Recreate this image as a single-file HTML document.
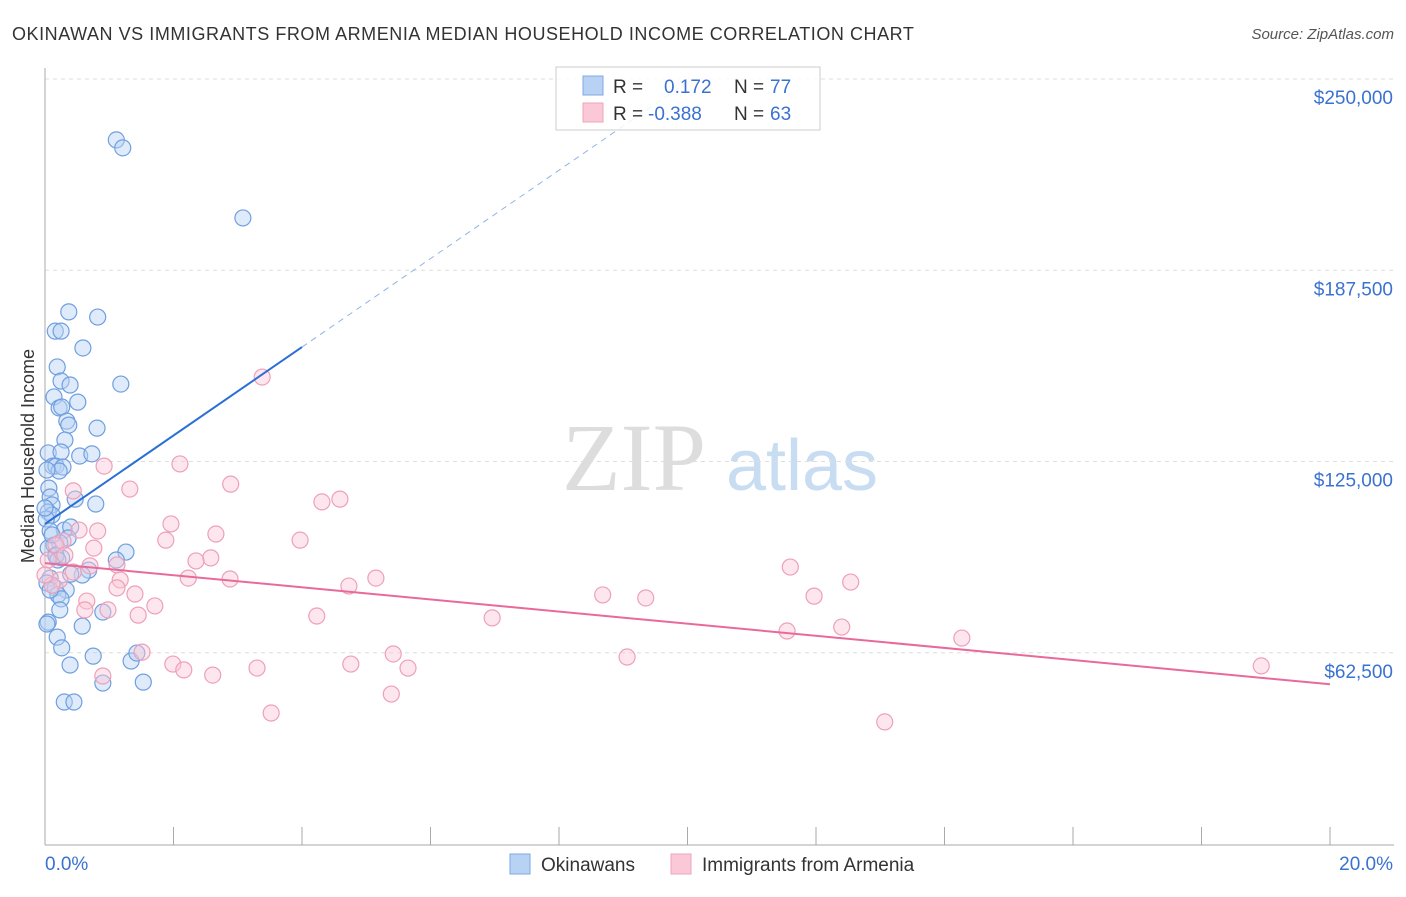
<!DOCTYPE html>
<html><head><meta charset="utf-8"><style>
body{margin:0;background:#fff;font-family:"Liberation Sans",sans-serif;}
svg text{font-family:"Liberation Sans",sans-serif;}
</style></head><body>
<svg id="chart" width="1406" height="892" xmlns="http://www.w3.org/2000/svg">
<text x="12" y="40" font-size="18" fill="#333" letter-spacing="0.55">OKINAWAN VS IMMIGRANTS FROM ARMENIA MEDIAN HOUSEHOLD INCOME CORRELATION CHART</text>
<text x="1394" y="39" font-size="15" fill="#555" text-anchor="end" font-style="italic">Source: ZipAtlas.com</text>
<g>
<text x="634" y="490" font-size="96" fill="#ddd" text-anchor="middle" font-family="Liberation Serif" style="font-family:'Liberation Serif',serif">ZIP</text>
<text x="802" y="490" font-size="72" fill="#c8dcf2" text-anchor="middle">atlas</text>
</g>
<g id="grid"></g>
<g id="axes"></g>
<g id="trend"></g>
<g id="points"></g>
<text transform="translate(34,456) rotate(-90)" font-size="18" fill="#333" text-anchor="middle">Median Household Income</text>
<g>
<rect x="556" y="67" width="264" height="63" fill="#fff" fill-opacity="0.85" stroke="#ccc"/>
<rect x="583" y="76" width="20" height="19" fill="#b8d2f4" stroke="#7fa9e0"/>
<rect x="583" y="103" width="20" height="19" fill="#fac8d6" stroke="#eea5bb"/>
<text x="613" y="93" font-size="19" fill="#333">R =</text>
<text x="664" y="93" font-size="19" fill="#3a72d0">0.172</text>
<text x="734" y="93" font-size="19" fill="#333">N =</text>
<text x="770" y="93" font-size="19" fill="#3a72d0">77</text>
<text x="613" y="120" font-size="19" fill="#333">R =</text>
<text x="648" y="120" font-size="19" fill="#3a72d0">-0.388</text>
<text x="734" y="120" font-size="19" fill="#333">N =</text>
<text x="770" y="120" font-size="19" fill="#3a72d0">63</text>
</g>
<g>
<rect x="510" y="854" width="20" height="20" fill="#b8d2f4" stroke="#7fa9e0"/>
<text x="541" y="871" font-size="19" fill="#333">Okinawans</text>
<rect x="671" y="854" width="20" height="20" fill="#fac8d6" stroke="#eea5bb"/>
<text x="702" y="871" font-size="19" fill="#333">Immigrants from Armenia</text>
</g>
</svg>
<script>
const yTicks=[62500,125000,187500,250000];
const yTickLabels=["$62,500","$125,000","$187,500","$250,000"];
const xTickCount=[0,2,4,6,8,10,12,14,16,18,20];
const blueX=[1.11,1.21,3.08,0.37,0.82,0.16,0.25,0.59,0.19,1.18,0.25,0.39,0.14,0.51,0.22,0.26,0.34,0.37,0.81,0.31,0.05,0.25,0.54,0.73,0.12,0.17,0.28,0.22,0.06,0.47,0.79,0.08,0.11,0.05,0.11,0.02,0.30,0.40,0.08,0.36,0.14,0.23,1.26,1.11,0.05,0.17,0.26,0.68,0.58,0.40,0.08,0.03,0.16,0.33,0.20,0.25,0.90,0.23,0.05,0.58,0.19,0.26,0.75,1.34,1.43,0.39,0.90,1.53,0.30,0.45,0.03,0.08,0.17,0.0,0.03,0.11,0.20];
const blueY=[230.1,227.5,204.6,173.9,172.2,167.6,167.6,162.1,155.9,150.3,151.3,150.0,146.1,144.4,142.5,142.8,138.2,136.9,135.9,132.0,127.8,128.1,126.8,127.5,123.5,123.5,123.2,121.9,116.3,112.7,111.1,113.4,110.8,108.5,107.5,106.2,102.6,103.6,102.3,100.0,97.7,98.4,95.4,92.8,96.7,94.1,93.5,89.5,87.9,88.2,86.9,85.3,83.7,83.0,81.4,80.1,75.8,76.5,72.5,71.2,67.6,64.1,61.4,59.8,62.4,58.5,52.6,52.9,46.4,46.4,71.9,83.0,94.4,109.8,122.2,101.0,92.8];
const pinkX=[3.38,2.10,0.92,0.44,1.32,2.89,4.31,4.59,1.96,0.82,2.66,0.53,1.88,3.97,0.28,0.17,0.76,2.58,2.35,0.70,11.60,1.12,0.44,5.15,1.17,2.23,2.88,12.54,4.73,1.12,1.40,8.68,9.35,11.97,0.65,1.71,0.98,1.45,4.23,6.96,11.55,12.40,14.27,1.51,5.42,9.06,1.99,2.16,3.30,4.76,5.65,0.90,2.61,5.39,3.52,13.07,18.93,0.23,0.05,0.11,0.31,0.0,0.62];
const pinkY=[152.6,124.2,123.5,115.4,116.0,117.6,111.8,112.7,104.6,102.3,101.3,102.6,99.3,99.3,99.0,97.7,96.7,93.5,92.5,90.9,90.5,91.2,88.9,86.9,86.3,86.9,86.6,85.6,84.3,83.7,81.7,81.4,80.4,81.0,79.4,77.8,76.5,74.8,74.5,73.9,69.6,70.9,67.3,62.7,62.1,61.1,58.8,56.9,57.5,58.8,57.5,54.9,55.2,49.0,42.8,39.9,58.2,86.3,92.8,84.6,94.4,87.9,76.5];
const blueTrend=[104.6,14.45];
const pinkTrend=[91.8,-1.98];
const NS="http://www.w3.org/2000/svg";
const X=v=>45+v*64.25;
const Yk=k=>844-k/0.3268;
function mk(t,a,p){const e=document.createElementNS(NS,t);for(const k in a)e.setAttribute(k,a[k]);p.appendChild(e);return e;}
const grid=document.getElementById('grid');
yTicks.forEach((t,i)=>{const y=Yk(t/1000);
const l=mk('line',{x1:45,x2:1394,y1:y,y2:y,stroke:'#ddd','stroke-dasharray':'4,4'},grid);


const tx=mk('text',{x:1393,y:y+25,'font-size':19,fill:'#3a72d0','text-anchor':'end'},grid);tx.textContent=yTickLabels[i];

});
const axes=document.getElementById('axes');
const ya=mk('line',{x1:45,x2:45,y1:68,y2:845,stroke:'#aaa'},axes);


const xa=mk('line',{x1:45,x2:1394,y1:845,y2:845,stroke:'#aaa'},axes);


xTickCount.forEach(t=>{const tk=mk('line',{x1:X(t),x2:X(t),y1:827,y2:845,stroke:'#aaa'},axes);

});
const xl0=mk('text',{x:45,y:870,'font-size':19,fill:'#3a72d0'},axes);xl0.textContent='0.0%';


const xl1=mk('text',{x:1393,y:870,'font-size':19,fill:'#3a72d0','text-anchor':'end'},axes);xl1.textContent='20.0%';


const tr=document.getElementById('trend');
const maxBlueX=Math.max(...blueX)+0.92;
const xEnd=(250-blueTrend[0])/blueTrend[1];
const bd=mk('line',{x1:X(maxBlueX),y1:Yk(blueTrend[0]+blueTrend[1]*maxBlueX),x2:X(xEnd),y2:Yk(250),stroke:'#8fb3e6','stroke-dasharray':'6,5','stroke-width':1},tr);


const pts=document.getElementById('points');
blueX.forEach((x,i)=>{const c=mk('circle',{cx:X(x),cy:Yk(blueY[i]),r:8,fill:'#b8d2f4','fill-opacity':0.45,stroke:'#6f9fe0','stroke-width':1.2},pts);

});
pinkX.forEach((x,i)=>{const c=mk('circle',{cx:X(x),cy:Yk(pinkY[i]),r:8,fill:'#fac8d6','fill-opacity':0.45,stroke:'#eea0b8','stroke-width':1.2},pts);

});
const bl=mk('line',{x1:X(0),y1:Yk(blueTrend[0]),x2:X(maxBlueX),y2:Yk(blueTrend[0]+blueTrend[1]*maxBlueX),stroke:'#2a6fd6','stroke-width':2},pts);


const pl=mk('line',{x1:X(0),y1:Yk(pinkTrend[0]),x2:X(20),y2:Yk(pinkTrend[0]+pinkTrend[1]*20),stroke:'#e86a9a','stroke-width':2},pts);


</script>
</body></html>
